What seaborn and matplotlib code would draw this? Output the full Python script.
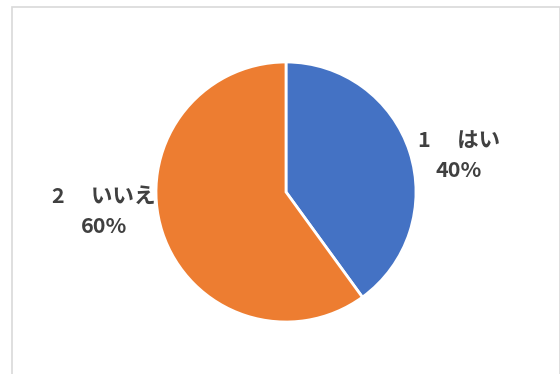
import matplotlib
matplotlib.use("Agg")
import matplotlib.pyplot as plt
from matplotlib.patches import Rectangle
import seaborn as sns

categories = ["1　 はい", "2　 いいえ"]
values = [40, 60]
pct_labels = ["40%", "60%"]

sns.set_theme(style="white")
plt.rcParams['font.family'] = ['Noto Sans CJK JP', 'DejaVu Sans']

colors = ["#4472C4", "#ED7D31"]

W, H = 560, 374
fig = plt.figure(figsize=(W / 100, H / 100), dpi=100)
fig.patch.set_facecolor("white")

# chart frame
fig.patches.append(Rectangle((12 / W, -0.05), (559.5 - 12) / W, (H - 7) / H + 0.05,
                             transform=fig.transFigure, fill=False,
                             edgecolor="#D9D9D9", linewidth=1.2))

cx, cy, r = 286, 192, 130
ax = fig.add_axes([(cx - r) / W, (H - cy - r) / H, 2 * r / W, 2 * r / H])
ax.pie(values, colors=colors, startangle=90, counterclock=False, radius=1,
       wedgeprops=dict(edgecolor="white", linewidth=2))
ax.set_xlim(-1, 1)
ax.set_ylim(-1, 1)
ax.set_aspect("equal")
ax.axis("off")

label_pos = [(1.33, 0.28), (-1.40, -0.15)]
for cat, pct, (x, y) in zip(categories, pct_labels, label_pos):
    ax.text(x, y, f"{cat}\n{pct}", ha="center", va="center", fontsize=15.5,
            fontweight="bold", color="#404040", linespacing=1.55, clip_on=False)

fig.savefig("out.png", dpi=100, facecolor="white")
